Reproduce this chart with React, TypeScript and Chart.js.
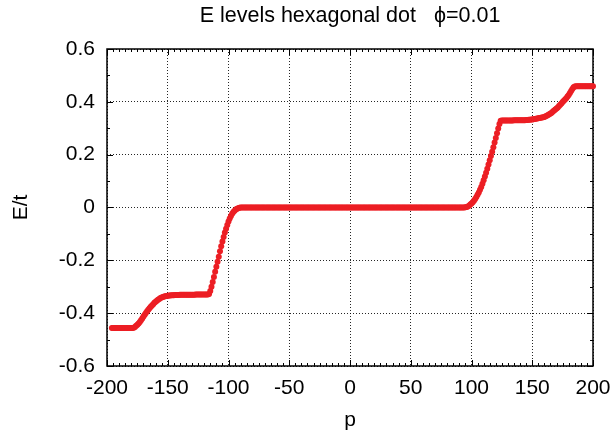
import React, { useEffect, useRef } from "react";
import { Chart, registerables } from "chart.js";

Chart.register(...registerables);

const TITLE = "E levels hexagonal dot   \u03d5=0.01";
const X_TITLE = "p";
const Y_TITLE = "E/t";

const X_MIN = -200;
const X_MAX = 200;
const X_STEP = 50;
const X_MINOR_PER_MAJOR = 10;
const Y_MIN = -0.6;
const Y_MAX = 0.6;
const Y_STEP = 0.2;
const Y_MINOR_PER_MAJOR = 2;

// Energy levels E/t, listed segment by segment (start index p, values for consecutive p)
const lowPlateauStart = -196;
const lowPlateau = [
  -0.456, -0.456, -0.456, -0.456, -0.456, -0.456, -0.456, -0.456, -0.456,
  -0.456, -0.456, -0.456, -0.456, -0.456, -0.456, -0.456, -0.456, -0.456,
];

const lowRiseStart = -178;
const lowRise = [
  -0.455, -0.452, -0.448, -0.444, -0.439, -0.433, -0.427, -0.42, -0.413, -0.406,
  -0.399, -0.393, -0.387, -0.381, -0.376, -0.371, -0.366, -0.361, -0.357, -0.353,
  -0.349, -0.346, -0.343, -0.341, -0.339, -0.337, -0.336, -0.335, -0.334,
];

const lowShelfStart = -149;
const lowShelf = [
  -0.333, -0.333, -0.332, -0.332, -0.332, -0.331, -0.331, -0.331, -0.331, -0.33,
  -0.33, -0.33, -0.33, -0.33, -0.33, -0.33, -0.33, -0.33, -0.33, -0.33, -0.33, -0.33,
  -0.329, -0.329, -0.329, -0.329, -0.329, -0.329, -0.329, -0.329, -0.329, -0.329, -0.329,
];

const lowStepStart = -116;
const lowStep = [
  -0.327, -0.316, -0.3, -0.282, -0.263, -0.243, -0.224, -0.205, -0.186, -0.166,
  -0.147, -0.129, -0.112, -0.095, -0.08, -0.066, -0.053, -0.042, -0.032, -0.024,
  -0.017, -0.012, -0.008, -0.005, -0.003, -0.001, 0,
];

const zeroStart = -89;
const zeroLevels = [
  0, 0, 0, 0, 0, 0, 0, 0, 0, 0, 0, 0, 0, 0, 0, 0, 0, 0, 0, 0,
  0, 0, 0, 0, 0, 0, 0, 0, 0, 0, 0, 0, 0, 0, 0, 0, 0, 0, 0, 0,
  0, 0, 0, 0, 0, 0, 0, 0, 0, 0, 0, 0, 0, 0, 0, 0, 0, 0, 0, 0,
  0, 0, 0, 0, 0, 0, 0, 0, 0, 0, 0, 0, 0, 0, 0, 0, 0, 0, 0, 0,
  0, 0, 0, 0, 0, 0, 0, 0, 0, 0, 0, 0, 0, 0, 0, 0, 0, 0, 0, 0,
  0, 0, 0, 0, 0, 0, 0, 0, 0, 0, 0, 0, 0, 0, 0, 0, 0, 0, 0, 0,
  0, 0, 0, 0, 0, 0, 0, 0, 0, 0, 0, 0, 0, 0, 0, 0, 0, 0, 0, 0,
  0, 0, 0, 0, 0, 0, 0, 0, 0, 0, 0, 0, 0, 0, 0, 0, 0, 0, 0, 0,
  0, 0, 0, 0, 0, 0, 0, 0, 0, 0, 0, 0, 0, 0, 0, 0, 0, 0, 0, 0,
  0, 0, 0, 0,
];

const highStepStart = 95;
const highStep = [
  0.001, 0.002, 0.004, 0.007, 0.011, 0.015, 0.02, 0.026, 0.032, 0.04,
  0.048, 0.057, 0.067, 0.078, 0.09, 0.103, 0.117, 0.132, 0.147, 0.163,
  0.179, 0.195, 0.211, 0.228, 0.246, 0.263, 0.281, 0.299, 0.316, 0.328,
];

const highShelfStart = 125;
const highShelf = [
  0.329, 0.329, 0.329, 0.329, 0.329, 0.329, 0.329, 0.329, 0.329, 0.329,
  0.33, 0.33, 0.33, 0.33, 0.33, 0.33, 0.33, 0.33, 0.33, 0.33,
  0.331, 0.331, 0.332, 0.332, 0.333, 0.333,
];

const highRiseStart = 151;
const highRise = [
  0.334, 0.335, 0.336, 0.337, 0.338, 0.339, 0.34, 0.341, 0.342, 0.343,
  0.345, 0.347, 0.35, 0.353, 0.356, 0.359, 0.363, 0.367, 0.371, 0.375,
  0.379, 0.384, 0.389, 0.394, 0.399, 0.404, 0.409, 0.414, 0.42, 0.426,
  0.433, 0.441, 0.449, 0.455, 0.458,
];

const highPlateauStart = 186;
const highPlateau = [
  0.459, 0.459, 0.459, 0.459, 0.459, 0.459, 0.459, 0.459, 0.459, 0.459,
  0.459, 0.459, 0.459, 0.459, 0.459,
];

const segments: [number, number[]][] = [
  [lowPlateauStart, lowPlateau],
  [lowRiseStart, lowRise],
  [lowShelfStart, lowShelf],
  [lowStepStart, lowStep],
  [zeroStart, zeroLevels],
  [highStepStart, highStep],
  [highShelfStart, highShelf],
  [highRiseStart, highRise],
  [highPlateauStart, highPlateau],
];

const FONT_FAMILY = "'Liberation Sans', Arial, Helvetica, sans-serif";
const RED = "rgb(236, 30, 36)";

const framePlugin = {
  id: "gnuplotFrame",
  beforeDatasetsDraw(chart: any) {
    const { ctx, chartArea: a, scales } = chart;
    const x = scales.x;
    const y = scales.y;
    ctx.save();
    ctx.strokeStyle = "#000";
    ctx.lineWidth = 1;
    ctx.beginPath();
    const nx = ((X_MAX - X_MIN) / X_STEP) * X_MINOR_PER_MAJOR;
    for (let i = 0; i <= nx; i++) {
      const v = X_MIN + (i * X_STEP) / X_MINOR_PER_MAJOR;
      const px = Math.round(x.getPixelForValue(v)) + 0.5;
      const len = i % X_MINOR_PER_MAJOR === 0 ? 6 : 3;
      ctx.moveTo(px, a.bottom);
      ctx.lineTo(px, a.bottom - len);
      ctx.moveTo(px, a.top);
      ctx.lineTo(px, a.top + len);
    }
    const ny = Math.round(((Y_MAX - Y_MIN) / Y_STEP) * Y_MINOR_PER_MAJOR);
    for (let i = 0; i <= ny; i++) {
      const v = Y_MIN + (i * Y_STEP) / Y_MINOR_PER_MAJOR;
      const py = Math.round(y.getPixelForValue(v)) + 0.5;
      const len = i % Y_MINOR_PER_MAJOR === 0 ? 6 : 3;
      ctx.moveTo(a.left, py);
      ctx.lineTo(a.left + len, py);
      ctx.moveTo(a.right, py);
      ctx.lineTo(a.right - len, py);
    }
    ctx.stroke();
    ctx.lineWidth = 1.5;
    ctx.strokeRect(a.left, a.top, a.right - a.left, a.bottom - a.top);
    ctx.restore();
  },
};

export default function App() {
  const canvasRef = useRef<HTMLCanvasElement | null>(null);

  useEffect(() => {
    const canvas = canvasRef.current;
    if (!canvas) return;
    const points: { x: number; y: number }[] = [];
    segments.forEach(([start, values]) => {
      values.forEach((v, i) => points.push({ x: start + i, y: v }));
    });

    const chart = new Chart(canvas, {
      type: "scatter",
      data: {
        datasets: [
          {
            data: points,
            backgroundColor: RED,
            borderColor: RED,
            borderWidth: 0,
            pointRadius: 3,
            pointHoverRadius: 3,
            clip: false,
          } as any,
        ],
      },
      plugins: [framePlugin],
      options: {
        animation: false,
        responsive: false,
        devicePixelRatio: 1,
        events: [],
        layout: { padding: { left: 0, right: 21, top: 0, bottom: 0 } },
        plugins: {
          legend: { display: false },
          tooltip: { enabled: false },
          title: {
            display: true,
            text: TITLE,
            color: "#000",
            fullSize: false,
            font: { family: FONT_FAMILY, size: 21.5, weight: "normal" },
            padding: { top: 2.8, bottom: 20.4 },
          },
        },
        scales: {
          x: {
            type: "linear",
            min: X_MIN,
            max: X_MAX,
            afterFit(scale: any) {
              scale.height = 67;
              scale.paddingLeft = 0;
              scale.paddingRight = 0;
            },
            ticks: {
              stepSize: X_STEP,
              color: "#000",
              padding: 10,
              maxRotation: 0,
              font: { family: FONT_FAMILY, size: 21 },
              callback: (v: any) => String(v),
            },
            grid: {
              color: "rgba(0,0,0,0.85)",
              lineWidth: 1,
              drawTicks: false,
            },
            border: { display: false, dash: [1, 2] },
            title: {
              display: true,
              text: X_TITLE,
              color: "#000",
              font: { family: FONT_FAMILY, size: 21 },
              padding: { top: 0, bottom: 0.5 },
            },
          },
          y: {
            type: "linear",
            min: Y_MIN,
            max: Y_MAX,
            afterFit(scale: any) {
              scale.width = 107;
            },
            ticks: {
              stepSize: Y_STEP,
              color: "#000",
              padding: 12,
              font: { family: FONT_FAMILY, size: 21 },
              callback: (v: any) => {
                const n = Number(v);
                return Math.abs(n) < 1e-9 ? "0" : n.toFixed(1);
              },
            },
            grid: {
              color: "rgba(0,0,0,0.85)",
              lineWidth: 1,
              drawTicks: false,
            },
            border: { display: false, dash: [1, 2] },
            title: {
              display: true,
              text: Y_TITLE,
              color: "#000",
              font: { family: FONT_FAMILY, size: 21 },
              padding: { top: 8.5, bottom: 0 },
            },
          },
        },
      },
    } as any);

    return () => chart.destroy();
  }, []);

  return (
    <div style={{ position: "fixed", left: 0, top: 0, width: 614, height: 433, background: "#fff" }}>
      <canvas ref={canvasRef} width={614} height={433} style={{ display: "block" }} />
    </div>
  );
}
